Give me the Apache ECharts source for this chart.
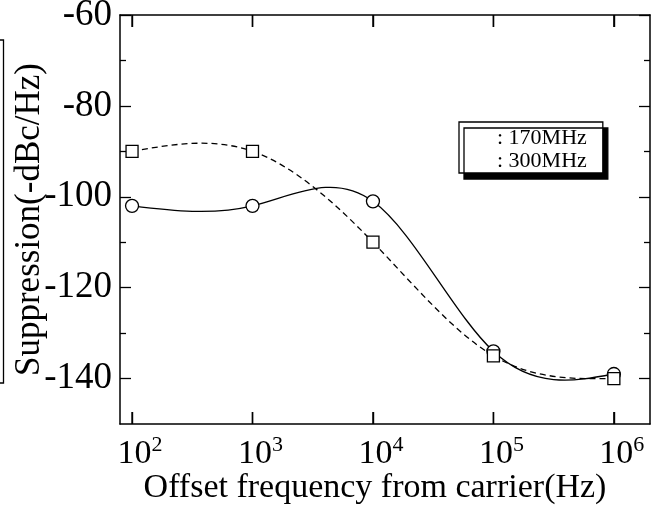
<!DOCTYPE html>
<html><head><meta charset="utf-8">
<script src="https://cdn.jsdelivr.net/npm/echarts@6/dist/echarts.min.js"></script>
<style>html,body{margin:0;padding:0;background:#fff}#c{width:663px;height:511px}</style>
</head><body><div id="c"></div>
<script>
// ---- data ----
const freqs = [100, 1000, 10000, 100000, 1000000];
const supp170 = [-102, -102, -101, -134, -139];
const supp300 = [-90, -90, -110, -135, -140];
const seriesNames = ['170MHz', '300MHz'];
const yTickLabels = [-140, -120, -100, -80, -60];
const yMinorTicks = [-130, -110, -90, -70];
const xTickExponents = [2, 3, 4, 5, 6];

const FONT = 'Liberation Serif';
const chart = echarts.init(document.getElementById('c'), null, {renderer: 'canvas'});

// x is plotted on a decade (log10) value axis
const toDecade = f => Math.log10(f);

const xMin = 1.9, xMax = 6.3;
const yMin = -150, yMax = -60;
const TICK = 12;

// natural cubic spline through pixel points, returned as Bezier segments
function splineSegments(pts) {
  const n = pts.length, h = [], M = new Array(n).fill(0);
  for (let i = 0; i < n - 1; i++) h[i] = pts[i + 1][0] - pts[i][0];
  const a = [], b = [], c = [], d = [];
  for (let i = 1; i < n - 1; i++) {
    a[i] = h[i - 1]; b[i] = 2 * (h[i - 1] + h[i]); c[i] = h[i];
    d[i] = 6 * ((pts[i + 1][1] - pts[i][1]) / h[i] - (pts[i][1] - pts[i - 1][1]) / h[i - 1]);
  }
  for (let i = 2; i < n - 1; i++) { const w = a[i] / b[i - 1]; b[i] -= w * c[i - 1]; d[i] -= w * d[i - 1]; }
  for (let i = n - 2; i >= 1; i--) M[i] = (d[i] - c[i] * M[i + 1]) / b[i];
  const segs = [];
  for (let i = 0; i < n - 1; i++) {
    const hi = h[i], s = (pts[i + 1][1] - pts[i][1]) / hi;
    const m0 = s - hi * (2 * M[i] + M[i + 1]) / 6;
    const m1 = s + hi * (M[i] + 2 * M[i + 1]) / 6;
    segs.push({
      x1: pts[i][0], y1: pts[i][1],
      cpx1: pts[i][0] + hi / 3, cpy1: pts[i][1] + m0 * hi / 3,
      cpx2: pts[i + 1][0] - hi / 3, cpy2: pts[i + 1][1] - m1 * hi / 3,
      x2: pts[i + 1][0], y2: pts[i + 1][1]
    });
  }
  return segs;
}

// decade ticks on bottom and top frame, positioned through the axis scale
function frameTicks(api) {
  const out = [];
  xTickExponents.forEach(e => {
    const b = api.coord([e, yMin]), t = api.coord([e, yMax]);
    out.push({type: 'rect', shape: {x: b[0] - 0.7, y: b[1] - TICK, width: 1.4, height: TICK}, style: {fill: '#000'}});
    out.push({type: 'rect', shape: {x: t[0] - 0.7, y: t[1], width: 1.4, height: TICK}, style: {fill: '#000'}});
  });
  return out;
}

function curveSeries(name, vals, dash, withTicks) {
  return {
    name: name, type: 'custom', xAxisIndex: 0, yAxisIndex: 0, z: 2, clip: false,
    data: freqs.map((f, i) => [toDecade(f), vals[i]]),
    renderItem: function (params, api) {
      const i = params.dataIndex;
      if (i >= freqs.length - 1) return null;
      const pts = freqs.map((f, k) => api.coord([toDecade(f), vals[k]]));
      const seg = splineSegments(pts)[i];
      const curve = {
        type: 'bezierCurve', shape: seg,
        style: {fill: null, stroke: '#000', lineWidth: 1.3, lineDash: dash}
      };
      if (withTicks && i === 0) {
        return {type: 'group', children: [curve].concat(frameTicks(api))};
      }
      return curve;
    }
  };
}

function markerSeries(name, vals, symbol) {
  return {
    name: name, type: 'scatter', xAxisIndex: 0, yAxisIndex: 0, z: 5,
    symbol: symbol, symbolSize: symbol === 'circle' ? 13 : 12,
    itemStyle: {color: '#fff', borderColor: '#000', borderWidth: 1.3, opacity: 1},
    data: freqs.map((f, i) => [toDecade(f), vals[i]])
  };
}

function xBase(pos) {
  return {
    type: 'value', position: pos, min: xMin, max: xMax,
    splitLine: {show: true, lineStyle: {color: 'rgba(0,0,0,0)'}},
    axisLine: {show: true, onZero: false, lineStyle: {color: '#000', width: 1.5}},
    axisTick: {show: true, inside: true, length: TICK, customValues: xTickExponents,
               lineStyle: {color: '#000', width: 1.4}},
    axisLabel: {show: false}
  };
}
function yBase(pos, major) {
  return {
    type: 'value', position: pos, min: yMin, max: yMax, splitLine: {show: false},
    axisLine: {show: major, onZero: false, lineStyle: {color: '#000', width: 1.5}},
    axisTick: {show: true, inside: true, length: major ? 11 : 6,
               customValues: major ? yTickLabels : yMinorTicks,
               lineStyle: {color: '#000', width: 1.3}},
    axisLabel: {show: false}
  };
}

const yLeft = yBase('left', true);
yLeft.axisLabel = {
  show: true, color: '#000', fontFamily: FONT, fontSize: 37, margin: 8,
  customValues: yTickLabels
};
yLeft.name = 'Suppression(-dBc/Hz)';
yLeft.nameLocation = 'middle';
yLeft.nameGap = 73;
yLeft.nameMoveOverlap = false;
yLeft.nameTextStyle = {color: '#000', fontFamily: FONT, fontSize: 35};

const xBottom = xBase('bottom');
xBottom.axisLabel = {
  show: true, color: '#000', margin: 10, padding: [0, 0, 0, 16],
  customValues: xTickExponents,
  formatter: v => '{b|10}{s|' + Math.round(v) + '}',
  rich: {
    b: {fontFamily: FONT, fontSize: 34, color: '#000'},
    s: {fontFamily: FONT, fontSize: 22, color: '#000', padding: [0, 0, 18, 0]}
  }
};
xBottom.name = 'Offset frequency from carrier(Hz)';
xBottom.nameLocation = 'middle';
xBottom.nameGap = 47;
xBottom.nameMoveOverlap = false;
xBottom.nameTextStyle = {color: '#000', fontFamily: FONT, fontSize: 34, padding: [0, 20, 0, 0]};

const option = {
  backgroundColor: '#fff',
  animation: false,
  grid: {left: 120, top: 15, right: 13, bottom: 87, containLabel: false, outerBoundsMode: 'none'},
  xAxis: [xBottom, xBase('top')],
  yAxis: [yLeft, yBase('left', false), yBase('right', true), yBase('right', false)],
  legend: {
    data: seriesNames, orient: 'vertical', left: 459, top: 122,
    icon: 'rect', itemWidth: 25, itemHeight: 14, itemGap: 1,
    itemStyle: {color: 'rgba(0,0,0,0)', borderWidth: 0, opacity: 0},
    formatter: ': {name}',
    textStyle: {fontFamily: FONT, fontSize: 22, color: '#000'},
    backgroundColor: '#fff', borderColor: '#000', borderWidth: 1.3,
    padding: [5, 16, 1, 8],
    shadowColor: '#000', shadowBlur: 0, shadowOffsetX: 5, shadowOffsetY: 6,
    selectedMode: false
  },
  graphic: [{
    type: 'polyline', silent: true,
    shape: {points: [[0, 40], [3.5, 40], [3.5, 383], [0, 383]]},
    style: {fill: null, stroke: '#000', lineWidth: 1.3}
  }],
  series: [
    curveSeries(seriesNames[0], supp170, null, true),
    curveSeries(seriesNames[1], supp300, [6, 4], false),
    markerSeries(seriesNames[0], supp170, 'circle'),
    markerSeries(seriesNames[1], supp300, 'rect')
  ]
};
chart.setOption(option);
</script></body></html>
